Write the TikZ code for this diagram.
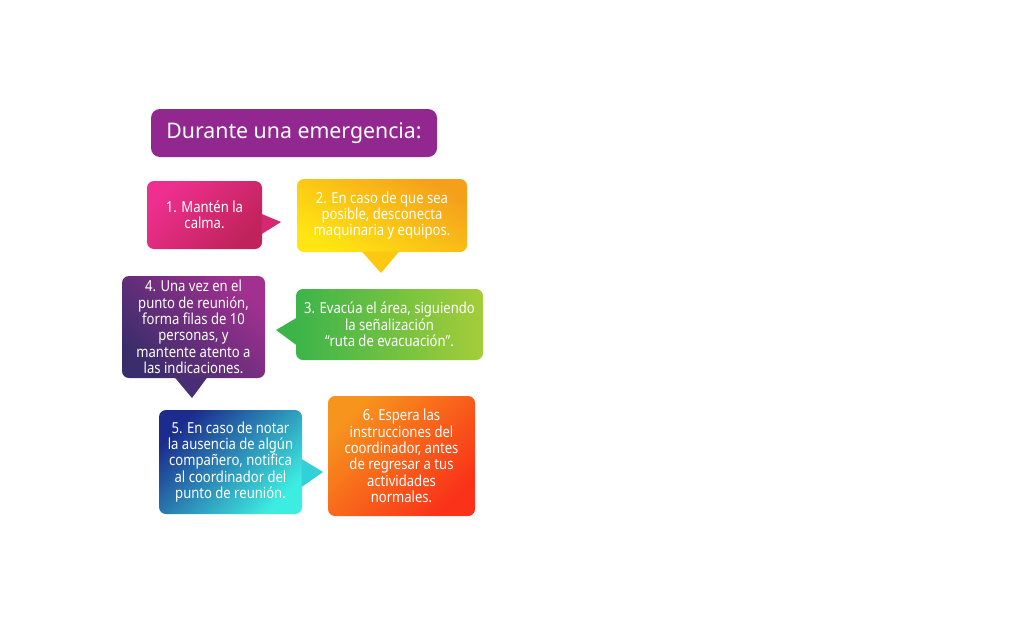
\documentclass[tikz,border=0pt]{standalone}
\usepackage{fontspec}
\setmainfont{Noto Sans}[FakeStretch=0.99]
\newfontfamily\narrow{Noto Sans}[FakeStretch=0.86]
\definecolor{headfill}{RGB}{146,39,143}
\definecolor{pinkA}{RGB}{238,47,143}
\definecolor{pinkB}{RGB}{192,35,90}
\definecolor{pinkM}{RGB}{212,40,112}
\definecolor{amberA}{RGB}{245,160,27}
\definecolor{amberC}{RGB}{247,176,20}
\definecolor{amberB}{RGB}{255,229,17}
\definecolor{amberM}{RGB}{252,200,16}
\definecolor{greenA}{RGB}{60,180,74}
\definecolor{greenB}{RGB}{165,205,57}
\definecolor{plumA}{RGB}{161,48,143}
\definecolor{plumB}{RGB}{58,45,107}
\definecolor{plumM}{RGB}{72,46,116}
\definecolor{navyA}{RGB}{27,44,142}
\definecolor{cyanB}{RGB}{61,237,225}
\definecolor{cyanM}{RGB}{51,208,216}
\definecolor{flameA}{RGB}{247,148,29}
\definecolor{flameM}{RGB}{247,128,30}
\definecolor{flameB}{RGB}{249,50,25}

\tikzset{
  bubble/.style={rounded corners=7pt, inner sep=0pt, align=center, text=white,
    font=\narrow\fontsize{15.2}{16.3}\selectfont},
}

\begin{document}
\begin{tikzpicture}[x=1pt, y=-1pt]
  \useasboundingbox (0,0) rectangle (1024,621);
  % title
  \node[fill=headfill, rounded corners=9pt, minimum width=286pt, minimum height=48pt,
    text=white, font=\fontsize{21.5}{24}\selectfont] (head) at (294,133) {Durante una emergencia:};
  % tips of the pointers
  \coordinate (t1) at (281,222);
  \coordinate (t2) at (381,273);
  \coordinate (t3) at (276,330);
  \coordinate (t4) at (192,398);
  \coordinate (t5) at (323,472);
  % step 1
  \node[bubble, minimum width=115pt, minimum height=68pt,
    top color=pinkA, bottom color=pinkB, shading angle=45] (s1) at (204.5,215) {1. Mantén la\\calma.};
  \fill[pinkM] ([xshift=-0.5pt,yshift=1pt]s1.east) -- (t1) -- ([xshift=-0.5pt,yshift=-19pt]s1.east) -- cycle;
  % step 2
  \node[bubble, minimum width=170pt, minimum height=73pt,
    top color=amberA, middle color=amberC, bottom color=amberB, shading angle=-30] (s2) at (382,215.5) {2. En caso de que sea\\posible, desconecta\\maquinaria y equipos.};
  \fill[amberM] ([xshift=-20pt,yshift=0.5pt]s2.south) -- (t2) -- ([xshift=17pt,yshift=0.5pt]s2.south) -- cycle;
  % step 3
  \node[bubble, minimum width=187pt, minimum height=71pt,
    left color=greenA, right color=greenB] (s3) at (389.5,324.5) {3. Evacúa el área, siguiendo\\la señalización\\“ruta de evacuación”.};
  \fill[greenA] ([xshift=0.5pt,yshift=6.5pt]s3.west) -- (t3) -- ([xshift=0.5pt,yshift=-20.5pt]s3.west) -- cycle;
  % step 4
  \node[bubble, minimum width=143pt, minimum height=102pt,
    top color=plumA, bottom color=plumB, shading angle=-45] (s4) at (193.5,327) {4. Una vez en el\\punto de reunión,\\forma filas de 10\\personas, y\\mantente atento a\\las indicaciones.};
  \fill[plumM] ([xshift=-18.5pt,yshift=0.5pt]s4.south) -- (t4) -- ([xshift=13.5pt,yshift=0.5pt]s4.south) -- cycle;
  % step 5
  \node[bubble, minimum width=143pt, minimum height=104pt,
    top color=navyA, bottom color=cyanB, shading angle=45] (s5) at (230.5,462) {5. En caso de notar\\la ausencia de algún\\compañero, notifica\\al coordinador del\\punto de reunión.};
  \fill[cyanM] ([xshift=-0.5pt,yshift=3pt]s5.east) -- (t5) -- ([xshift=-0.5pt,yshift=-25pt]s5.east) -- cycle;
  % step 6
  \node[bubble, minimum width=147pt, minimum height=120pt,
    top color=flameA, middle color=flameM, bottom color=flameB, shading angle=45] (s6) at (401.5,456) {6. Espera las\\instrucciones del\\coordinador, antes\\de regresar a tus\\actividades\\normales.};
\end{tikzpicture}
\end{document}
